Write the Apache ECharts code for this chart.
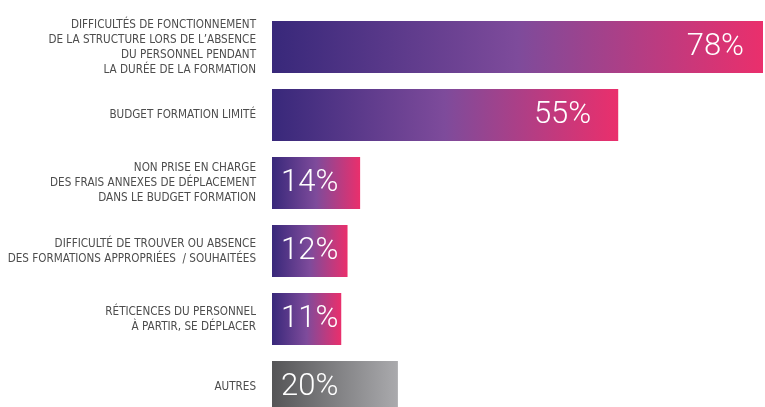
<!DOCTYPE html>
<html>
<head>
<meta charset="utf-8">
<script src="https://cdn.jsdelivr.net/npm/echarts@6/dist/echarts.min.js"></script>
<style>
  html, body { margin: 0; padding: 0; background: #fff; }
  #chart { width: 765px; height: 407px; }
</style>
</head>
<body>
<div id="chart"></div>
<script>
// Obstacles cited, share of respondents (%)
const categories = [
  "DIFFICULTÉS DE FONCTIONNEMENT\nDE LA STRUCTURE LORS DE L’ABSENCE\nDU PERSONNEL PENDANT\nLA DURÉE DE LA FORMATION",
  "BUDGET FORMATION LIMITÉ",
  "NON PRISE EN CHARGE\nDES FRAIS ANNEXES DE DÉPLACEMENT\nDANS LE BUDGET FORMATION",
  "DIFFICULTÉ DE TROUVER OU ABSENCE\nDES FORMATIONS APPROPRIÉES  / SOUHAITÉES",
  "RÉTICENCES DU PERSONNEL\nÀ PARTIR, SE DÉPLACER",
  "AUTRES"
];
const values = [78, 55, 14, 12, 11, 20];
// which bar is the "other" bucket (drawn in grey)
const otherIndex = 5;

const purpleGradient = new echarts.graphic.LinearGradient(0, 0, 1, 0, [
  { offset: 0, color: '#38287a' },
  { offset: 0.5, color: '#7e4b9b' },
  { offset: 1, color: '#ea2f6c' }
]);
const greyGradient = new echarts.graphic.LinearGradient(0, 0, 1, 0, [
  { offset: 0, color: '#555557' },
  { offset: 1, color: '#aaaaad' }
]);

const barData = values.map((v, i) => {
  const wide = v > 30;
  return {
    value: v,
    itemStyle: { color: i === otherIndex ? greyGradient : purpleGradient },
    label: wide
      ? { position: 'insideRight', distance: i === 0 ? 19 : 27 }
      : { position: 'insideLeft', distance: 9 }
  };
});

const chart = echarts.init(document.getElementById('chart'));
chart.setOption({
  animation: false,
  grid: { left: 272, right: 2, top: 13, bottom: -14, containLabel: false, outerBoundsMode: 'none' },
  xAxis: {
    type: 'value', min: 0, max: 78,
    show: false
  },
  yAxis: {
    type: 'category',
    inverse: true,
    data: categories,
    axisLine: { show: false },
    axisTick: { show: false },
    axisLabel: {
      margin: 16,
      align: 'right',
      color: '#4d4d4d',
      fontFamily: '"DejaVu Sans Condensed", "Liberation Sans Narrow", "DejaVu Sans", sans-serif',
      fontSize: 11.6,
      lineHeight: 15,
      padding: [0, 0, 10, 0]
    }
  },
  series: [{
    type: 'bar',
    data: barData,
    barWidth: 52,
    label: {
      show: true,
      formatter: '{c}%',
      color: '#ffffff',
      fontFamily: 'Roboto, "Open Sans", sans-serif',
      fontWeight: 300,
      fontSize: 31
    }
  }]
});
</script>
</body>
</html>
